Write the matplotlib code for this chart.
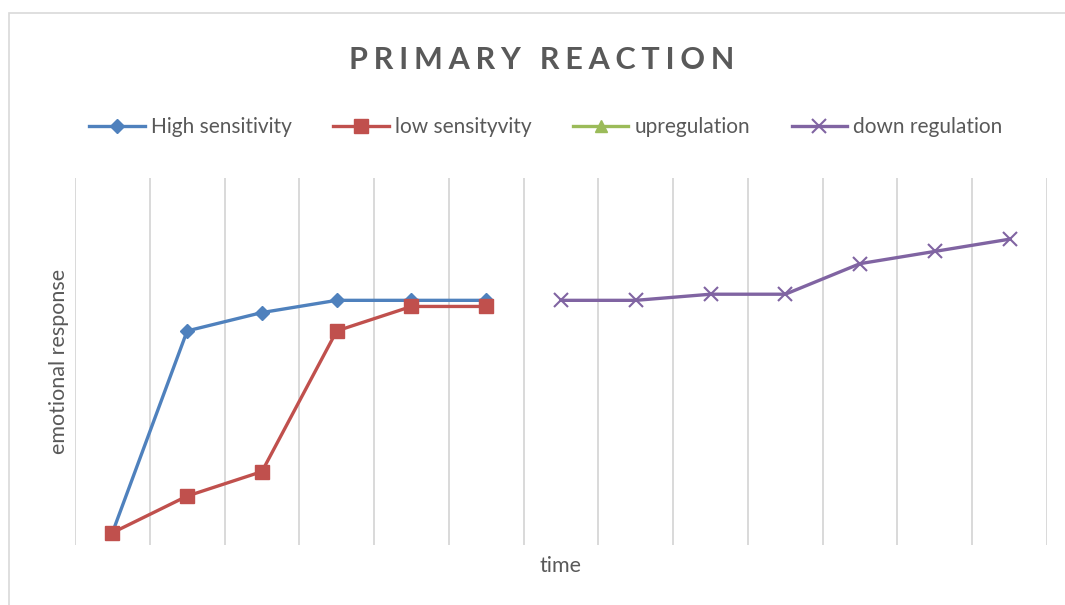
import matplotlib.pyplot as plt
from matplotlib.patches import Rectangle
import numpy as np

# Data
time_idx = list(range(1, 14))
high_x = [1, 2, 3, 4, 5, 6]
high_sensitivity = [1, 17.5, 19, 20, 20, 20]
low_x = [1, 2, 3, 4, 5, 6]
low_sensitivity = [1, 4, 6, 17.5, 19.5, 19.5]
up_x = []
upregulation = []
down_x = [7, 8, 9, 10, 11, 12, 13]
down_regulation = [20, 20, 20.5, 20.5, 23, 24, 25]

labels = ['High sensitivity', 'low sensityvity', 'upregulation', 'down regulation']
colors = ['#4F81BD', '#C0504D', '#9BBB59', '#8064A2']
text_color = '#595959'

plt.rcParams['font.family'] = ['Lato', 'DejaVu Sans']

W, H = 1065, 605
fig = plt.figure(figsize=(W / 100, H / 100), dpi=100)

# outer chart border
fig.patches.append(Rectangle((8.5 / W, -0.1), 1.2, (H - 13.5) / H + 0.1,
                             transform=fig.transFigure, fill=False,
                             edgecolor='#D9D9D9', linewidth=1.2))

ax = fig.add_axes([75 / W, (H - 545) / H, (1047 - 75) / W, (545 - 178) / H])

ax.plot(high_x, high_sensitivity, color=colors[0], lw=2.4, marker='D', ms=7.5,
        label=labels[0])
ax.plot(low_x, low_sensitivity, color=colors[1], lw=2.4, marker='s', ms=10,
        label=labels[1])
ax.plot(up_x, upregulation, color=colors[2], lw=2.4, marker='^', ms=9,
        label=labels[2])
ax.plot(down_x, down_regulation, color=colors[3], lw=2.4, marker='x', ms=10.5,
        mew=1.5, label=labels[3])

ax.set_xlim(0.5, 13.5)
ax.set_ylim(0, 30)
for xg in np.arange(0.5, 14, 1):
    ax.axvline(xg, color='#D9D9D9', lw=1.4, zorder=0)
ax.set_xticks([])
ax.set_yticks([])
for s in ax.spines.values():
    s.set_visible(False)

ax.set_xlabel('time', fontsize=15.5, color=text_color, labelpad=8)
ax.set_ylabel('emotional response', fontsize=15.5, color=text_color, labelpad=4)

title = '\u2009\u200a'.join('PRIMARY REACTION')
fig.text(542 / W, 1 - 60 / H, title, ha='center', va='center', fontsize=22,
         fontweight='bold', color=text_color)

fig.legend(loc='center', bbox_to_anchor=(546 / W, 1 - 127 / H), ncol=4,
           frameon=False, fontsize=15, handlelength=2.65, columnspacing=2.0,
           handletextpad=0.3, labelcolor=text_color)

fig.savefig('out.png', dpi=100)
